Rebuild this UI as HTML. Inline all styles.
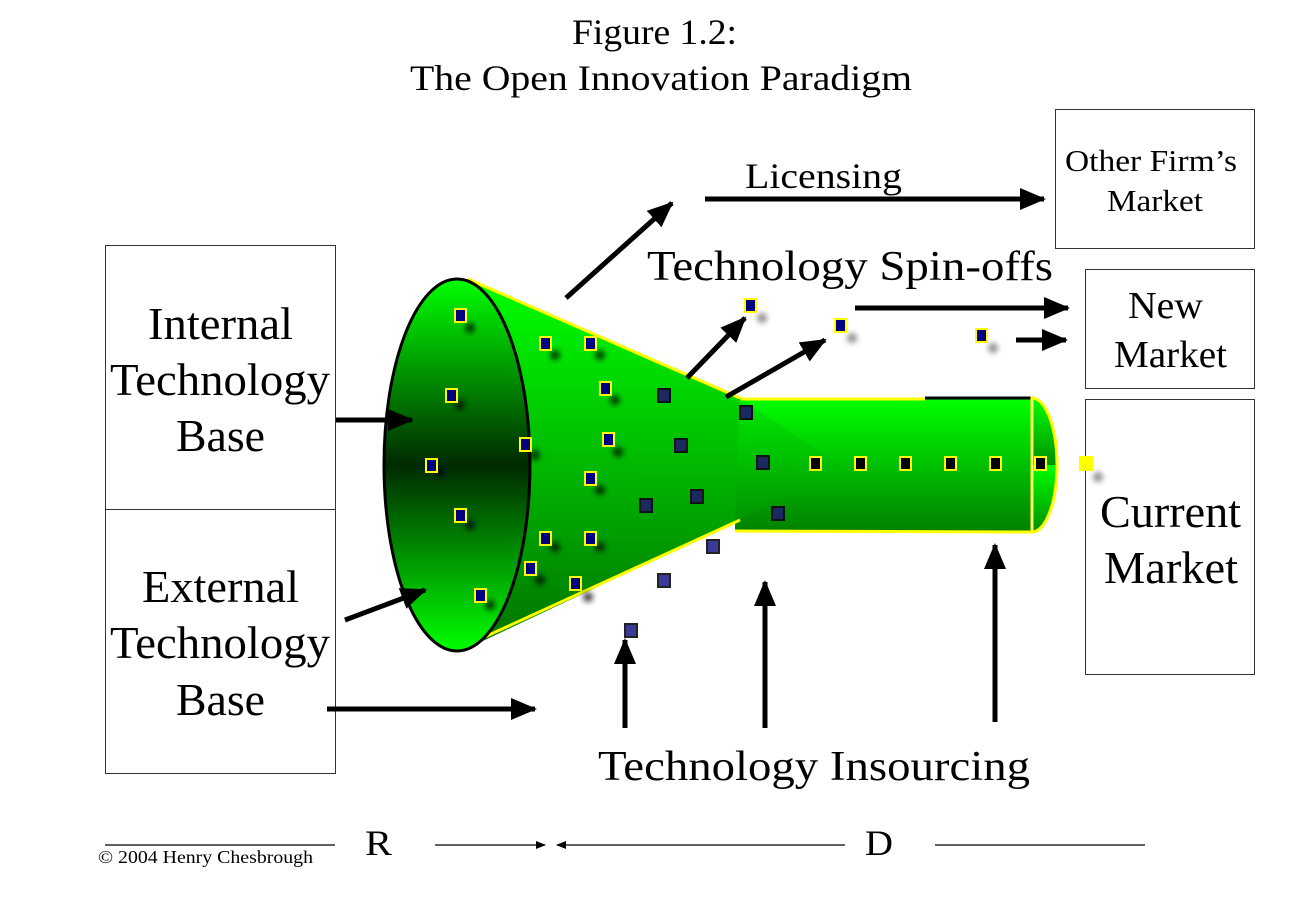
<!DOCTYPE html>
<html><head><meta charset="utf-8"><style>
html,body{margin:0;padding:0;background:#fff}
svg{display:block}
text{font-family:"Liberation Serif",serif;fill:#000}
</style></head><body>
<svg width="1313" height="909" viewBox="0 0 1313 909" xmlns="http://www.w3.org/2000/svg">
<defs>
<linearGradient id="cone" x1="0" y1="0" x2="0" y2="1">
<stop offset="0" stop-color="#00ff00"/><stop offset="0.5" stop-color="#00b800"/><stop offset="1" stop-color="#007000"/>
</linearGradient>
<linearGradient id="cyl" x1="0" y1="0" x2="0" y2="1">
<stop offset="0" stop-color="#00ff00"/><stop offset="1" stop-color="#008000"/>
</linearGradient>
<linearGradient id="ell" x1="0" y1="0" x2="0" y2="1">
<stop offset="0" stop-color="#00ff00"/><stop offset="0.5" stop-color="#002a00"/><stop offset="1" stop-color="#00ff00"/>
</linearGradient>
<linearGradient id="cap" x1="0" y1="0" x2="0" y2="1">
<stop offset="0" stop-color="#00ff00"/><stop offset="0.5" stop-color="#009000"/><stop offset="0.5" stop-color="#00ff00"/><stop offset="1" stop-color="#009000"/>
</linearGradient>
<marker id="ah" markerWidth="26" markerHeight="22" refX="24" refY="11" orient="auto" markerUnits="userSpaceOnUse"><path d="M0,0 L26,11 L0,22 z" fill="#000"/></marker>
<marker id="ah2" markerWidth="10" markerHeight="8" refX="9" refY="4" orient="auto" markerUnits="userSpaceOnUse"><path d="M0,0 L10,4 L0,8 z" fill="#000"/></marker>
<filter id="blur"><feGaussianBlur stdDeviation="3"/></filter>
</defs>

<text x="410" y="44" font-size="36" textLength="165" lengthAdjust="spacingAndGlyphs" transform="translate(162,0)">Figure 1.2:</text>
<text x="410" y="90" font-size="36" textLength="502" lengthAdjust="spacingAndGlyphs">The Open Innovation Paradigm</text>

<g fill="#fff" stroke="#333" stroke-width="1">
<rect x="105.5" y="245.5" width="230" height="264"/>
<rect x="105.5" y="509.5" width="230" height="264"/>
<rect x="1055.5" y="109.5" width="199" height="139"/>
<rect x="1085.5" y="269.5" width="169" height="119"/>
<rect x="1085.5" y="399.5" width="169" height="275"/>
</g>
<g font-size="46">
<text x="148" y="339" textLength="145" lengthAdjust="spacingAndGlyphs">Internal</text>
<text x="110" y="395" textLength="220" lengthAdjust="spacingAndGlyphs">Technology</text>
<text x="176" y="451" textLength="89" lengthAdjust="spacingAndGlyphs">Base</text>
<text x="142" y="602" textLength="157" lengthAdjust="spacingAndGlyphs">External</text>
<text x="110" y="658" textLength="220" lengthAdjust="spacingAndGlyphs">Technology</text>
<text x="176" y="715" textLength="89" lengthAdjust="spacingAndGlyphs">Base</text>
<text x="1100" y="527" textLength="141" lengthAdjust="spacingAndGlyphs">Current</text>
<text x="1104" y="583" textLength="134" lengthAdjust="spacingAndGlyphs">Market</text>
</g>
<text x="1065" y="171" font-size="31" textLength="172" lengthAdjust="spacingAndGlyphs">Other Firm’s</text>
<text x="1107" y="211" font-size="31" textLength="96" lengthAdjust="spacingAndGlyphs">Market</text>
<text x="1128" y="318" font-size="38" textLength="75" lengthAdjust="spacingAndGlyphs">New</text>
<text x="1114" y="367" font-size="38" textLength="113" lengthAdjust="spacingAndGlyphs">Market</text>

<rect x="735" y="399" width="297" height="133" fill="url(#cyl)"/>
<line x1="735" y1="399" x2="925" y2="399" stroke="#ffff00" stroke-width="3"/>
<line x1="925" y1="398" x2="1034" y2="398" stroke="#000" stroke-width="3"/>
<line x1="735" y1="531" x2="1032" y2="532" stroke="#ffff00" stroke-width="3"/>
<path d="M1032,398 A25,67 0 0 1 1032,532 Z" fill="url(#cap)" stroke="#ffff00" stroke-width="3"/>
<line x1="1032" y1="400" x2="1032" y2="530" stroke="#fff" stroke-width="1"/>
<path d="M468,279 L740,398 L735,522 L485,640 L458,652 L458,279 Z" fill="url(#cone)"/>
<path d="M740,398 L840,465 L735,522 Z" fill="#00b000" opacity="0.25"/>
<line x1="468" y1="279" x2="740" y2="398" stroke="#ffff00" stroke-width="3"/>
<line x1="478" y1="640" x2="740" y2="520" stroke="#ffff00" stroke-width="3"/>
<ellipse cx="457" cy="465" rx="73" ry="186" fill="url(#ell)" stroke="#000" stroke-width="3"/>

<g fill="#000" filter="url(#blur)" opacity="0.75">
<circle cx="470" cy="328" r="5"/><circle cx="460" cy="405" r="5"/><circle cx="440" cy="472" r="5"/><circle cx="470" cy="525" r="5"/><circle cx="490" cy="605" r="5"/>
<circle cx="555" cy="355" r="5"/><circle cx="600" cy="355" r="5"/><circle cx="615" cy="400" r="5"/><circle cx="535" cy="455" r="5"/><circle cx="618" cy="452" r="5"/><circle cx="600" cy="490" r="5"/>
<circle cx="555" cy="547" r="5"/><circle cx="600" cy="547" r="5"/><circle cx="540" cy="580" r="5"/><circle cx="588" cy="597" r="5"/>
<circle cx="762" cy="318" r="5" opacity="0.6"/><circle cx="852" cy="338" r="5" opacity="0.6"/><circle cx="993" cy="348" r="5" opacity="0.6"/><circle cx="1098" cy="477" r="5" opacity="0.6"/>
</g>
<g fill="#000080" stroke="#ffff00" stroke-width="2">
<rect x="455" y="309" width="11" height="13"/><rect x="446" y="389" width="11" height="13"/><rect x="426" y="459" width="11" height="13"/><rect x="455" y="509" width="11" height="13"/><rect x="475" y="589" width="11" height="13"/>
<rect x="540" y="337" width="11" height="13"/><rect x="585" y="337" width="11" height="13"/><rect x="600" y="382" width="11" height="13"/><rect x="520" y="438" width="11" height="13"/><rect x="603" y="433" width="11" height="13"/><rect x="585" y="472" width="11" height="13"/>
<rect x="540" y="532" width="11" height="13"/><rect x="585" y="532" width="11" height="13"/><rect x="525" y="562" width="11" height="13"/><rect x="570" y="577" width="11" height="13"/>
<rect x="745" y="299" width="11" height="13"/><rect x="835" y="319" width="11" height="13"/><rect x="976" y="329" width="11" height="13"/>
</g>
<g fill="#1a2a60" stroke="#111" stroke-width="2">
<rect x="658" y="389" width="12" height="13"/><rect x="740" y="406" width="12" height="13"/><rect x="675" y="439" width="12" height="13"/><rect x="757" y="456" width="12" height="13"/><rect x="691" y="490" width="12" height="13"/><rect x="640" y="499" width="12" height="13"/><rect x="772" y="507" width="12" height="13"/>
</g>
<g fill="#3a3a9a" stroke="#222" stroke-width="2">
<rect x="707" y="540" width="12" height="13"/><rect x="658" y="574" width="12" height="13"/><rect x="625" y="624" width="12" height="13"/>
</g>
<g fill="#000" stroke="#ffff00" stroke-width="2">
<rect x="810" y="457" width="11" height="13"/><rect x="855" y="457" width="11" height="13"/><rect x="900" y="457" width="11" height="13"/><rect x="945" y="457" width="11" height="13"/><rect x="990" y="457" width="11" height="13"/><rect x="1035" y="457" width="11" height="13"/>
</g>
<rect x="1079" y="456" width="14" height="15" fill="#ffff00"/>

<g stroke="#000" stroke-width="5" fill="none" marker-end="url(#ah)">
<line x1="566" y1="298" x2="672" y2="203"/>
<line x1="705" y1="199" x2="1044" y2="199"/>
<line x1="336" y1="420" x2="412" y2="420"/>
<line x1="345" y1="620" x2="425" y2="590"/>
<line x1="327" y1="709" x2="535" y2="709"/>
<line x1="625" y1="728" x2="625" y2="640"/>
<line x1="765" y1="728" x2="765" y2="582"/>
<line x1="995" y1="722" x2="995" y2="545"/>
<line x1="687" y1="378" x2="745" y2="318"/>
<line x1="726" y1="397" x2="825" y2="340"/>
<line x1="855" y1="308" x2="1068" y2="308"/>
<line x1="1016" y1="340" x2="1066" y2="340"/>
</g>
<text x="647" y="280" font-size="42" textLength="406" lengthAdjust="spacingAndGlyphs">Technology Spin-offs</text>
<text x="598" y="780" font-size="42" textLength="432" lengthAdjust="spacingAndGlyphs">Technology Insourcing</text>
<text x="745" y="188" font-size="36" textLength="157" lengthAdjust="spacingAndGlyphs">Licensing</text>

<g stroke="#000" stroke-width="1.2">
<line x1="105" y1="845" x2="335" y2="845"/>
<line x1="435" y1="845" x2="545" y2="845" marker-end="url(#ah2)"/>
<line x1="845" y1="845" x2="557" y2="845" marker-end="url(#ah2)"/>
<line x1="935" y1="845" x2="1145" y2="845"/>
</g>
<text x="365" y="855" font-size="36" textLength="27" lengthAdjust="spacingAndGlyphs">R</text>
<text x="865" y="855" font-size="36" textLength="28" lengthAdjust="spacingAndGlyphs">D</text>
<text x="98" y="863" font-size="18" textLength="215" lengthAdjust="spacingAndGlyphs">© 2004 Henry Chesbrough</text>
</svg>
</body></html>
